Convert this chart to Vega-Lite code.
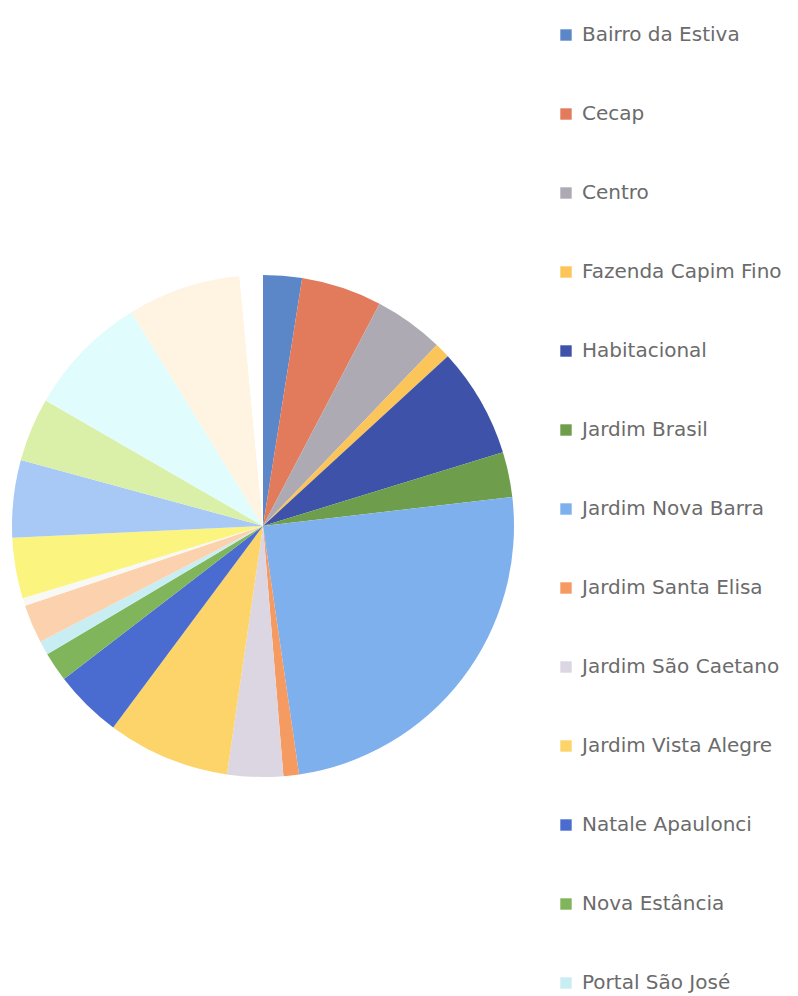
{
  "$schema": "https://vega.github.io/schema/vega-lite/v6.json",
  "autosize": {"type": "none"},
  "width": 526,
  "height": 940,
  "padding": {"left": 0, "top": 56, "right": 272, "bottom": 0},
  "background": "#ffffff",
  "config": {"view": {"stroke": null}},
  "data": {
    "values": [
      {"bairro": "Bairro da Estiva", "pct": 2.5},
      {"bairro": "Cecap", "pct": 5.2},
      {"bairro": "Centro", "pct": 4.5},
      {"bairro": "Fazenda Capim Fino", "pct": 1.0},
      {"bairro": "Habitacional", "pct": 7.1},
      {"bairro": "Jardim Brasil", "pct": 2.9},
      {"bairro": "Jardim Nova Barra", "pct": 24.6},
      {"bairro": "Jardim Santa Elisa", "pct": 1.0},
      {"bairro": "Jardim São Caetano", "pct": 3.6},
      {"bairro": "Jardim Vista Alegre", "pct": 7.9},
      {"bairro": "Natale Apaulonci", "pct": 4.4},
      {"bairro": "Nova Estância", "pct": 1.9},
      {"bairro": "Portal São José", "pct": 0.9},
      {"bairro": "Residencial Vale do Sol", "pct": 2.5},
      {"bairro": "Sonho Nosso", "pct": 0.5},
      {"bairro": "Vila Habitacional", "pct": 3.9},
      {"bairro": "Vila Narcisa", "pct": 5.0},
      {"bairro": "Vila Nova", "pct": 4.1},
      {"bairro": "Vila Operária", "pct": 7.9},
      {"bairro": "Vila São José", "pct": 7.3},
      {"bairro": "Zona Rural", "pct": 1.5}
    ]
  },
  "mark": {"type": "arc", "outerRadius": 251},
  "encoding": {
    "theta": {"field": "pct", "type": "quantitative", "stack": true},
    "order": {"field": "bairro", "sort": "ascending"},
    "color": {
      "field": "bairro",
      "type": "nominal",
      "scale": {
        "domain": ["Bairro da Estiva", "Cecap", "Centro", "Fazenda Capim Fino", "Habitacional", "Jardim Brasil", "Jardim Nova Barra", "Jardim Santa Elisa", "Jardim São Caetano", "Jardim Vista Alegre", "Natale Apaulonci", "Nova Estância", "Portal São José", "Residencial Vale do Sol", "Sonho Nosso", "Vila Habitacional", "Vila Narcisa", "Vila Nova", "Vila Operária", "Vila São José", "Zona Rural"],
        "range": ["#5b87c9", "#e17b5c", "#aeaab4", "#fcc55a", "#3d52a8", "#6e9e4c", "#7eb0ee", "#f59a60", "#dcd6e2", "#fcd46a", "#4a6cd0", "#80b55c", "#c8edf2", "#fcd2ae", "#f8f8f4", "#fbf47e", "#a8c8f6", "#daf0a8", "#e0fcfd", "#fff4e2", "#ffffff"]
      },
      "legend": {
        "title": null,
        "orient": "none",
        "legendX": 556,
        "legendY": -31,
        "values": ["Bairro da Estiva", "Cecap", "Centro", "Fazenda Capim Fino", "Habitacional", "Jardim Brasil", "Jardim Nova Barra", "Jardim Santa Elisa", "Jardim São Caetano", "Jardim Vista Alegre", "Natale Apaulonci", "Nova Estância", "Portal São José"],
        "symbolType": "square",
        "symbolSize": 130,
        "symbolStrokeWidth": 0,
        "labelFont": "DejaVu Sans",
        "labelFontSize": 20,
        "labelColor": "#6b6b6b",
        "labelOffset": 6,
        "rowPadding": 59,
        "labelLimit": 300
      }
    }
  }
}
